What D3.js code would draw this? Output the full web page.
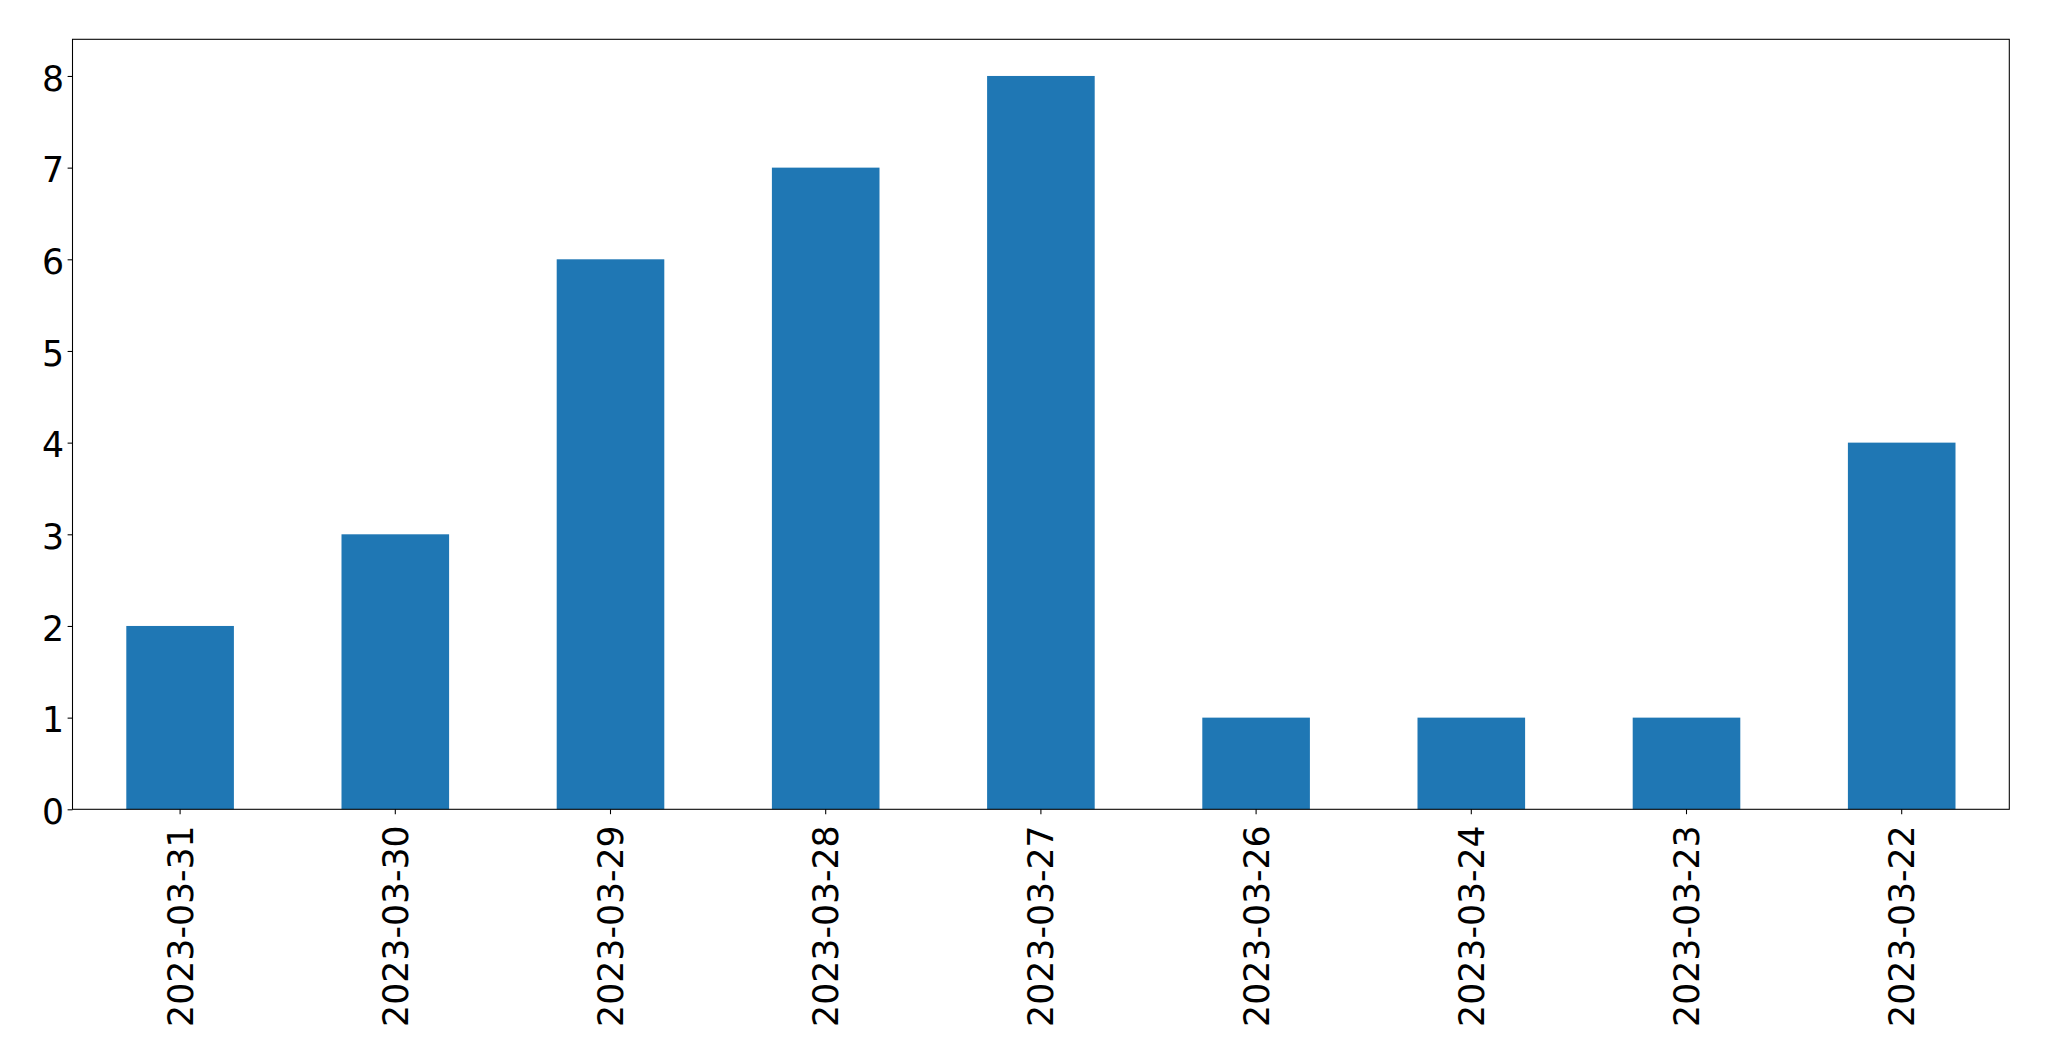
<!DOCTYPE html>
<html>
<head>
<meta charset="utf-8">
<script src="https://cdn.jsdelivr.net/npm/d3@7"></script>
<style>
  html, body { margin: 0; padding: 0; background: #fff; }
  svg { display: block; }
</style>
</head>
<body>
<svg id="chart" width="2049" height="1061"></svg>
<script>
const categories = ["2023-03-31", "2023-03-30", "2023-03-29", "2023-03-28", "2023-03-27", "2023-03-26", "2023-03-24", "2023-03-23", "2023-03-22"];
const values = [2, 3, 6, 7, 8, 1, 1, 1, 4];
const yTicks = [0, 1, 2, 3, 4, 5, 6, 7, 8];

const W = 2049, H = 1061;
const margin = { left: 72.5, right: W - 2009.3, top: 39.3, bottom: H - 809.3 };
const svg = d3.select("#chart");
const font = "'DejaVu Sans', sans-serif";
const fontSize = 34.7;

const x = d3.scaleBand()
  .domain(categories)
  .range([margin.left, W - margin.right])
  .paddingInner(0.5)
  .paddingOuter(0.25)
  .align(0.5);

const y = d3.scaleLinear()
  .domain([0, 8.4])
  .range([H - margin.bottom, margin.top]);

// Bars
svg.append("g")
  .selectAll("rect")
  .data(values)
  .join("rect")
  .attr("x", (d, i) => x(categories[i]))
  .attr("width", x.bandwidth())
  .attr("y", d => y(d))
  .attr("height", d => y(0) - y(d))
  .attr("fill", "#1f77b4");

// X axis
const xAxis = svg.append("g")
  .attr("transform", `translate(0,${H - margin.bottom})`)
  .call(d3.axisBottom(x).tickSize(4.9).tickSizeOuter(0));
xAxis.select(".domain").remove();
xAxis.selectAll(".tick line").attr("stroke", "#000").attr("stroke-width", 1.07);
xAxis.selectAll(".tick text")
  .attr("transform", "rotate(-90)")
  .attr("x", -16)
  .attr("y", 0)
  .attr("dy", "0.36em")
  .attr("text-anchor", "end")
  .attr("fill", "#000")
  .style("font-family", font)
  .style("font-size", fontSize + "px");

// Y axis
const yAxis = svg.append("g")
  .attr("transform", `translate(${margin.left},0)`)
  .call(d3.axisLeft(y).tickValues(yTicks).tickFormat(d3.format("d")).tickSize(4.9).tickSizeOuter(0));
yAxis.select(".domain").remove();
yAxis.selectAll(".tick line").attr("stroke", "#000").attr("stroke-width", 1.07);
yAxis.selectAll(".tick text")
  .attr("x", -8.5)
  .attr("y", 1.8)
  .attr("dy", "0.36em")
  .attr("fill", "#000")
  .style("font-family", font)
  .style("font-size", fontSize + "px");

// Frame (spines)
svg.append("rect")
  .attr("x", margin.left)
  .attr("y", margin.top)
  .attr("width", W - margin.left - margin.right)
  .attr("height", H - margin.top - margin.bottom)
  .attr("fill", "none")
  .attr("stroke", "#000")
  .attr("stroke-width", 1.07);
</script>
</body>
</html>
